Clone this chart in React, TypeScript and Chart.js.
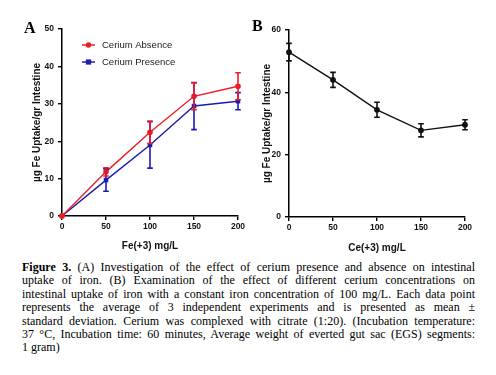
import React, { useEffect, useRef } from "react";
import { Chart, registerables } from "chart.js";

Chart.register(...registerables);

// ---- data ----
const feConc = [0, 50, 100, 150, 200];
const absenceMean = [0, 11.8, 22.4, 32.0, 34.7];
const absenceSD = [0, 1.1, 3.0, 3.6, 3.6];
const presenceMean = [0, 9.6, 19.0, 29.4, 30.7];
const presenceSD = [0, 3.0, 6.2, 6.3, 2.3];

const ceConc = [0, 50, 100, 150, 200];
const ceMean = [52.9, 44.0, 34.4, 27.8, 29.6];
const ceSD = [2.8, 2.4, 2.4, 2.1, 1.6];

const legendLabels = ["Cerium Absence", "Cerium Presence"];
const yTitleText = "µg Fe Uptake/gr Intestine";
const xTitleA = "Fe(+3) mg/L";
const xTitleB = "Ce(+3) mg/L";

const captionLines = [
  "(A) Investigation of the effect of cerium presence and absence on intestinal",
  "uptake of iron. (B) Examination of the effect of different cerium concentrations on",
  "intestinal uptake of iron with a constant iron concentration of 100 mg/L. Each data point",
  "represents the average of 3 independent experiments and is presented as mean ±",
  "standard deviation. Cerium was complexed with citrate (1:20). (Incubation temperature:",
  "37 °C, Incubation time: 60 minutes, Average weight of everted gut sac (EGS) segments:",
  "1 gram)",
];

const RED = "#ee1c25";
const BLUE = "#1c1cb0";
const BLACK = "#111111";
const SANS = "'Liberation Sans', Arial, sans-serif";

const toXY = (xs: number[], ys: number[]) => xs.map((x, i) => ({ x, y: ys[i] }));

const errorBarPlugin = {
  id: "errorBars",
  afterDatasetsDraw(chart: any) {
    const ctx = chart.ctx;
    const ys = chart.scales.y;
    const n = chart.data.datasets.length;
    for (let i = n - 1; i >= 0; i--) {
      const ds: any = chart.data.datasets[i];
      const errs: number[] | undefined = ds.errors;
      if (!errs) continue;
      const meta = chart.getDatasetMeta(i);
      ctx.save();
      ctx.strokeStyle = ds.borderColor;
      ctx.lineWidth = 1.6;
      meta.data.forEach((pt: any, j: number) => {
        const e = errs[j];
        if (!e) return;
        const v = ds.data[j].y;
        const x = pt.x;
        const yTop = ys.getPixelForValue(v + e);
        const yBot = ys.getPixelForValue(v - e);
        ctx.beginPath();
        ctx.moveTo(x, yTop);
        ctx.lineTo(x, yBot);
        ctx.moveTo(x - 2.8, yTop);
        ctx.lineTo(x + 2.8, yTop);
        ctx.moveTo(x - 2.8, yBot);
        ctx.lineTo(x + 2.8, yBot);
        ctx.stroke();
      });
      ctx.restore();
    }
  },
};

const insideLegendPlugin = {
  id: "insideLegend",
  afterDraw(chart: any, _args: any, opts: any) {
    if (!opts || !opts.show) return;
    const { ctx, chartArea } = chart;
    chart.data.datasets.forEach((ds: any, i: number) => {
      const y = chartArea.top + opts.dy + i * opts.gap;
      const x0 = chartArea.left + opts.dx;
      const x1 = x0 + 13;
      const xm = (x0 + x1) / 2;
      ctx.save();
      ctx.strokeStyle = ds.borderColor;
      ctx.fillStyle = ds.backgroundColor;
      ctx.lineWidth = 1.5;
      ctx.beginPath();
      ctx.moveTo(x0, y);
      ctx.lineTo(x1, y);
      ctx.stroke();
      if (ds.pointStyle === "rect") {
        ctx.fillRect(xm - 2.6, y - 2.6, 5.2, 5.2);
      } else {
        ctx.beginPath();
        ctx.arc(xm, y, 2.7, 0, Math.PI * 2);
        ctx.fill();
      }
      ctx.fillStyle = "#1a1a1a";
      ctx.font = `9.5px ${SANS}`;
      ctx.textBaseline = "middle";
      ctx.textAlign = "left";
      ctx.fillText(ds.label, x1 + 7, y);
      ctx.restore();
    });
  },
};

const tickFont = { family: SANS, size: 8.5, weight: "bold" as const };
const titleFont = { family: SANS, size: 10, weight: "bold" as const };
const gridCfg = {
  drawOnChartArea: false,
  drawTicks: true,
  tickLength: 4,
  color: "#000",
  lineWidth: 1.4,
};
const borderCfg = { color: "#000", width: 1.5 };

function makeScales(opts: {
  xTitle: string;
  yMax: number;
  yStep: number;
  yWidth: number;
  xHeight: number;
  yTitlePad: number;
  xTitlePad: number;
}) {
  return {
    x: {
      type: "linear",
      min: 0,
      max: 200,
      ticks: { stepSize: 50, font: tickFont, color: "#111", padding: 2, maxRotation: 0 },
      grid: gridCfg,
      border: borderCfg,
      title: {
        display: true,
        text: opts.xTitle,
        font: titleFont,
        color: "#111",
        padding: { top: 0, bottom: opts.xTitlePad },
      },
      afterFit(s: any) {
        s.height = opts.xHeight;
      },
    },
    y: {
      type: "linear",
      min: 0,
      max: opts.yMax,
      ticks: { stepSize: opts.yStep, font: tickFont, color: "#111", padding: 4 },
      grid: gridCfg,
      border: borderCfg,
      title: {
        display: true,
        text: yTitleText,
        font: titleFont,
        color: "#111",
        padding: { top: opts.yTitlePad, bottom: 0 },
      },
      afterFit(s: any) {
        s.width = opts.yWidth;
      },
    },
  };
}

const configA: any = {
  type: "line",
  data: {
    datasets: [
      {
        label: legendLabels[0],
        data: toXY(feConc, absenceMean),
        errors: absenceSD,
        borderColor: RED,
        backgroundColor: RED,
        borderWidth: 1.4,
        pointStyle: "circle",
        pointRadius: 2.8,
        pointBorderWidth: 0,
        clip: false,
      },
      {
        label: legendLabels[1],
        data: toXY(feConc, presenceMean),
        errors: presenceSD,
        borderColor: BLUE,
        backgroundColor: BLUE,
        borderWidth: 1.4,
        pointStyle: "rect",
        pointRadius: 3.2,
        pointBorderWidth: 0,
        clip: false,
      },
    ],
  },
  options: {
    animation: false,
    responsive: false,
    maintainAspectRatio: false,
    layout: { padding: { top: 29, right: 10, left: 0, bottom: 0 } },
    plugins: {
      legend: { display: false },
      tooltip: { enabled: false },
      insideLegend: { show: true, dx: 20, dy: 16, gap: 17 },
    },
    scales: makeScales({
      xTitle: xTitleA,
      yMax: 50,
      yStep: 10,
      yWidth: 62,
      xHeight: 42,
      yTitlePad: 31,
      xTitlePad: 6,
    }),
  },
  plugins: [errorBarPlugin, insideLegendPlugin],
};

const configB: any = {
  type: "line",
  data: {
    datasets: [
      {
        label: "Ce",
        data: toXY(ceConc, ceMean),
        errors: ceSD,
        borderColor: BLACK,
        backgroundColor: BLACK,
        borderWidth: 1.4,
        pointStyle: "circle",
        pointRadius: 2.9,
        pointBorderWidth: 0,
        clip: false,
      },
    ],
  },
  options: {
    animation: false,
    responsive: false,
    maintainAspectRatio: false,
    layout: { padding: { top: 30, right: 31, left: 0, bottom: 0 } },
    plugins: {
      legend: { display: false },
      tooltip: { enabled: false },
      insideLegend: { show: false },
    },
    scales: makeScales({
      xTitle: xTitleB,
      yMax: 60,
      yStep: 20,
      yWidth: 41,
      xHeight: 41,
      yTitlePad: 13,
      xTitlePad: 4,
    }),
  },
  plugins: [errorBarPlugin, insideLegendPlugin],
};

function ChartCanvas({ config, left }: { config: any; left: number }) {
  const ref = useRef<HTMLCanvasElement | null>(null);
  useEffect(() => {
    if (!ref.current) return;
    const c = new Chart(ref.current, config);
    return () => c.destroy();
  }, [config]);
  return (
    <canvas
      ref={ref}
      width={248}
      height={258}
      style={{ position: "absolute", left, top: 0, width: 248, height: 258 }}
    />
  );
}

const panelLabel: React.CSSProperties = {
  position: "absolute",
  fontFamily: "'Liberation Serif', 'Times New Roman', serif",
  fontWeight: "bold",
  fontSize: 16,
  lineHeight: "16px",
  color: "#000",
};

export default function App() {
  return (
    <div
      style={{
        position: "absolute",
        left: 0,
        top: 0,
        width: 496,
        height: 375,
        background: "#fff",
        overflow: "hidden",
      }}
    >
      <ChartCanvas config={configA} left={0} />
      <ChartCanvas config={configB} left={248} />
      <div style={{ ...panelLabel, left: 24, top: 20 }}>A</div>
      <div style={{ ...panelLabel, left: 252, top: 18 }}>B</div>
      <div
        style={{
          position: "absolute",
          left: 22,
          top: 261,
          width: 453,
          fontFamily: "'Liberation Serif', 'Times New Roman', serif",
          fontSize: 12,
          lineHeight: "13.4px",
          color: "#000",
        }}
      >
        {captionLines.map((line, i) => (
          <div
            key={i}
            style={{
              whiteSpace: "nowrap",
              textAlign: "justify",
              textAlignLast: i < captionLines.length - 1 ? "justify" : "left",
            }}
          >
            {i === 0 ? <b>Figure 3. </b> : null}
            {line}
          </div>
        ))}
      </div>
    </div>
  );
}
